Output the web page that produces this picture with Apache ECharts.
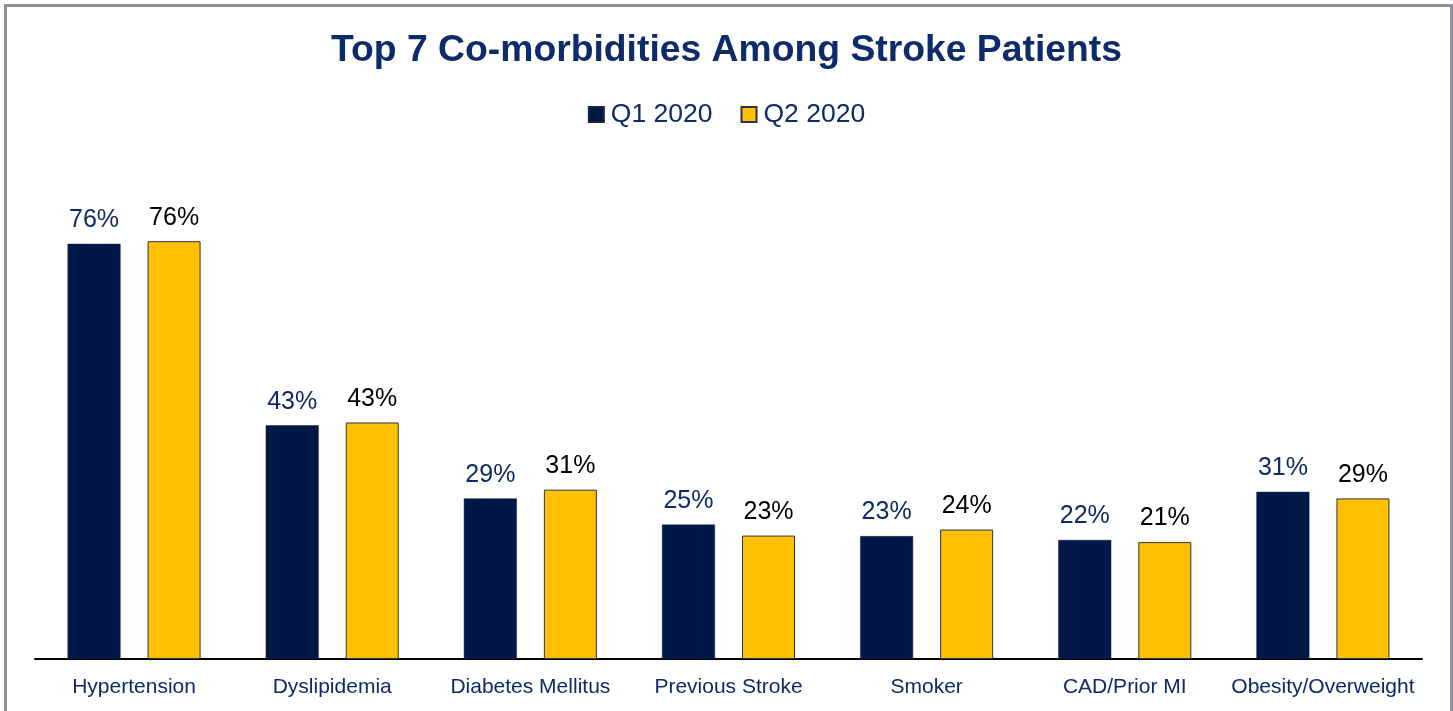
<!DOCTYPE html>
<html>
<head>
<meta charset="utf-8">
<script src="https://cdn.jsdelivr.net/npm/echarts@6/dist/echarts.min.js"></script>
<style>
  html, body { margin: 0; padding: 0; background: #ffffff; overflow: hidden; }
  #frame { position: absolute; left: 4px; top: 4px; width: 1443px; height: 760px; border: 3px solid #8e9198; border-bottom: none; }
  #chart { position: absolute; left: 0; top: 0; width: 1453px; height: 711px; }
</style>
</head>
<body>
<div id="frame"></div>
<div id="chart"></div>
<script>
const titleText = 'Top 7 Co-morbidities Among Stroke Patients';
const categories = ['Hypertension', 'Dyslipidemia', 'Diabetes Mellitus', 'Previous Stroke', 'Smoker', 'CAD/Prior MI', 'Obesity/Overweight'];
const seriesNames = ['Q1 2020', 'Q2 2020'];
const q1Values = [76, 42.8, 29.4, 24.6, 22.5, 21.8, 30.6];
const q2Values = [76.49, 43.3, 31.0, 22.6, 23.7, 21.4, 29.4];

const chart = echarts.init(document.getElementById('chart'), null, { renderer: 'canvas' });
const fontFamily = '"Liberation Sans", Arial, sans-serif';
const navy = '#001848';
const textNavy = '#0d2a6a';
const gold = '#FFC000';

chart.setOption({
  backgroundColor: 'transparent',
  animation: false,
  title: {
    text: titleText,
    left: 'center',
    top: 27,
    textStyle: { fontFamily: fontFamily, fontSize: 37.3, fontWeight: 'bold', color: textNavy }
  },
  legend: {
    data: seriesNames,
    left: 'center',
    top: 96,
    itemWidth: 15,
    itemHeight: 15,
    itemGap: 28,
    icon: 'rect',
    textStyle: { fontFamily: fontFamily, fontSize: 26.5, color: textNavy, padding: [0, 0, 0, 2] }
  },
  grid: { left: 35, right: 31, top: 222, bottom: 52 },
  xAxis: {
    type: 'category',
    data: categories,
    axisLine: { show: true, lineStyle: { color: '#000000', width: 2 } },
    axisTick: { show: false },
    axisLabel: { fontFamily: fontFamily, fontSize: 21, color: textNavy, margin: 18, interval: 0 }
  },
  yAxis: {
    type: 'value',
    min: 0,
    max: 80,
    show: false,
    splitLine: { show: false }
  },
  series: [
    {
      name: seriesNames[0],
      type: 'bar',
      data: q1Values,
      barWidth: 53,
      barGap: '51%',
      itemStyle: { color: navy, borderColor: '#1a2540', borderWidth: 0.5 },
      label: {
        show: true,
        position: 'top',
        distance: 11,
        formatter: p => Math.round(p.value) + '%',
        fontFamily: fontFamily,
        fontSize: 25,
        color: textNavy
      }
    },
    {
      name: seriesNames[1],
      type: 'bar',
      data: q2Values,
      barWidth: 53,
      itemStyle: { color: gold, borderColor: '#2e3448', borderWidth: 1 },
      label: {
        show: true,
        position: 'top',
        distance: 11,
        formatter: p => Math.round(p.value) + '%',
        fontFamily: fontFamily,
        fontSize: 25,
        color: '#000000'
      }
    }
  ]
});
</script>
</body>
</html>
